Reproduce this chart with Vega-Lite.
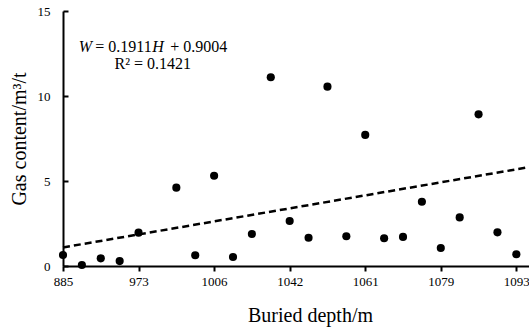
{
  "$schema": "https://vega.github.io/schema/vega-lite/v6.json",
  "width": 466,
  "height": 255,
  "autosize": "none",
  "padding": {"left": 63, "top": 11, "right": 0, "bottom": 64},
  "background": "white",
  "config": {
    "view": {"stroke": null},
    "font": "Liberation Serif",
    "axis": {"grid": false, "domainColor": "black", "domainWidth": 2, "tickColor": "black", "tickWidth": 2, "labelColor": "black", "labelFont": "Liberation Serif", "labelFontSize": 13, "labelFlush": false, "titleFont": "Liberation Serif", "titleFontWeight": "normal", "titleFontSize": 20, "titleColor": "black"}
  },
  "datasets": {
    "pts": [
      {"idx": 0, "gas": 0.65}, {"idx": 1, "gas": 0.06}, {"idx": 2, "gas": 0.45}, {"idx": 3, "gas": 0.29},
      {"idx": 4, "gas": 1.96}, {"idx": 6, "gas": 4.61}, {"idx": 7, "gas": 0.63}, {"idx": 8, "gas": 5.31},
      {"idx": 9, "gas": 0.53}, {"idx": 10, "gas": 1.88}, {"idx": 11, "gas": 11.1}, {"idx": 12, "gas": 2.65},
      {"idx": 13, "gas": 1.66}, {"idx": 14, "gas": 10.55}, {"idx": 15, "gas": 1.75}, {"idx": 16, "gas": 7.71},
      {"idx": 17, "gas": 1.63}, {"idx": 18, "gas": 1.71}, {"idx": 19, "gas": 3.78}, {"idx": 20, "gas": 1.06},
      {"idx": 21, "gas": 2.86}, {"idx": 22, "gas": 8.92}, {"idx": 23, "gas": 1.98}, {"idx": 24, "gas": 0.69}
    ],
    "trend": [{"idx": 0, "gas": 1.0915}, {"idx": 24.67, "gas": 5.8149}],
    "eqItalic": [{"idx": 0.83, "gas": 12.59, "t": "W"}, {"idx": 4.72, "gas": 12.59, "t": "H"}],
    "eqPlain": [{"idx": 1.71, "gas": 12.59, "t": "= 0.1911"}, {"idx": 5.68, "gas": 12.59, "t": "+ 0.9004"}],
    "eqR": [{"idx": 4.75, "gas": 11.59, "t": "R² = 0.1421"}]
  },
  "layer": [
    {
      "data": {"name": "trend"},
      "mark": {"type": "line", "color": "black", "strokeWidth": 2.5, "strokeDash": [7, 4], "clip": false},
      "encoding": {
        "x": {"field": "idx", "type": "quantitative", "scale": {"domain": [0, 24.67], "nice": false, "zero": false},
          "axis": {"values": [0, 4, 8, 12, 16, 20, 24], "title": "Buried depth/m", "tickSize": 5, "labelPadding": 4,
            "labelExpr": "datum.value == 0 ? '885' : datum.value == 4 ? '973' : datum.value == 8 ? '1006' : datum.value == 12 ? '1042' : datum.value == 16 ? '1061' : datum.value == 20 ? '1079' : '1093'",
            "titleX": 247, "titleY": 55, "titleBaseline": "alphabetic", "titleAnchor": null, "titleAlign": "center"}},
        "y": {"field": "gas", "type": "quantitative", "scale": {"domain": [0, 15], "nice": false},
          "axis": {"values": [0, 5, 10, 15], "title": "Gas content/m³/t", "tickSize": -5, "labelPadding": 18,
            "titleX": -44, "titleBaseline": "middle"}}
      }
    },
    {
      "data": {"name": "pts"},
      "mark": {"type": "circle", "color": "black", "opacity": 1, "size": 66},
      "encoding": {
        "x": {"field": "idx", "type": "quantitative"},
        "y": {"field": "gas", "type": "quantitative"}
      }
    },
    {
      "data": {"name": "eqItalic"},
      "mark": {"type": "text", "font": "Liberation Serif", "fontStyle": "italic", "fontSize": 16, "align": "left", "baseline": "alphabetic", "color": "black"},
      "encoding": {"x": {"field": "idx", "type": "quantitative"}, "y": {"field": "gas", "type": "quantitative"}, "text": {"field": "t"}}
    },
    {
      "data": {"name": "eqPlain"},
      "mark": {"type": "text", "font": "Liberation Serif", "fontSize": 16, "align": "left", "baseline": "alphabetic", "color": "black"},
      "encoding": {"x": {"field": "idx", "type": "quantitative"}, "y": {"field": "gas", "type": "quantitative"}, "text": {"field": "t"}}
    },
    {
      "data": {"name": "eqR"},
      "mark": {"type": "text", "font": "Liberation Serif", "fontSize": 16, "align": "center", "baseline": "alphabetic", "color": "black"},
      "encoding": {"x": {"field": "idx", "type": "quantitative"}, "y": {"field": "gas", "type": "quantitative"}, "text": {"field": "t"}}
    }
  ]
}
